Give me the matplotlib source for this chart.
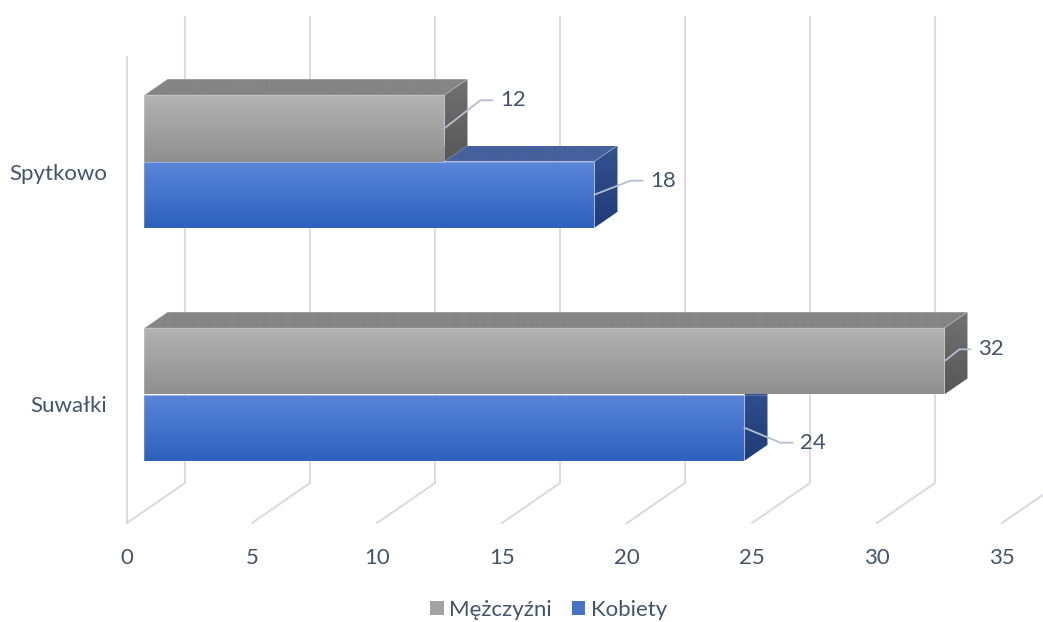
import numpy as np
import matplotlib
matplotlib.use("Agg")
import matplotlib.pyplot as plt
from matplotlib.patches import Polygon, Patch
from matplotlib.lines import Line2D
from matplotlib.colors import LinearSegmentedColormap

# ---------------- data ----------------
categories = ["Suwałki", "Spytkowo"]
series_names = ["Mężczyźni", "Kobiety"]
men = [32, 12]
women = [24, 18]
xticks = [0, 5, 10, 15, 20, 25, 30, 35]

# ---------------- style / layout ----------------
W, H, DPI = 1043, 622, 100
TXT = "#44546a"
GRID = "#d9d9e3"
FONT = "Lato"
FS = 16

# pixel layout of the projection (front plane)
X0_PX, PX_PER_X = 127, 25.0
C0_PX, PX_PER_C = 406.5, 233.0
DEPTH_PX = (58.0, 40.0)
DX = DEPTH_PX[0] / PX_PER_X
DY = DEPTH_PX[1] / PX_PER_C
C_LO, C_HI = -0.5, 1.5
BAR_H = 0.285
D0, D1 = 0.3, 0.7

def proj(v, c, d):
    return (v + DX * d, c + DY * d)

fig = plt.figure(figsize=(W / DPI, H / DPI), dpi=DPI)
ax = fig.add_axes([0, 0, 1, 1])
ax.set_xlim(-X0_PX / PX_PER_X, (W - X0_PX) / PX_PER_X)
ax.set_ylim(-(H - C0_PX) / PX_PER_C, C0_PX / PX_PER_C)
ax.axis("off")

# ---------------- walls / gridlines ----------------
glw = 1.4
for v in xticks:
    a = proj(v, C_LO, 0); b = proj(v, C_LO, 1); t = proj(v, C_HI, 1)
    ax.plot([a[0], b[0], t[0]], [a[1], b[1], t[1]], color=GRID, lw=glw,
            zorder=1, solid_joinstyle="miter")
a = proj(0, C_LO, 0); t = proj(0, C_HI, 0)
ax.plot([a[0], t[0]], [a[1], t[1]], color=GRID, lw=glw, zorder=1)

# ---------------- bars ----------------
def grad_fill(poly_pts, c_top, c_bot, z):
    pts = np.array(poly_pts)
    poly = Polygon(pts, closed=True, facecolor="none", edgecolor="none", zorder=z)
    ax.add_patch(poly)
    cmap = LinearSegmentedColormap.from_list("g", [c_bot, c_top])
    grad = np.linspace(0, 1, 256).reshape(-1, 1)
    im = ax.imshow(grad, cmap=cmap, origin="lower", aspect="auto",
                   extent=(pts[:, 0].min(), pts[:, 0].max(),
                           pts[:, 1].min(), pts[:, 1].max()),
                   zorder=z, interpolation="bilinear")
    im.set_clip_path(poly)
    ax.add_patch(Polygon(pts, closed=True, facecolor="none",
                         edgecolor=(1, 1, 1, 0.25), lw=0.6, zorder=z + 0.01))

styles = {
    "men": dict(front=("#b3b3b3", "#8f8f8f"), top=("#858585", "#858585"),
                side=("#727272", "#575757")),
    "women": dict(front=("#5b86d9", "#2d61bd"), top=("#46619d", "#46619d"),
                  side=("#34528f", "#1f3c78")),
}

def draw_bar(v, y0, y1, st, z):
    front = [proj(0, y0, D0), proj(v, y0, D0), proj(v, y1, D0), proj(0, y1, D0)]
    top = [proj(0, y1, D0), proj(v, y1, D0), proj(v, y1, D1), proj(0, y1, D1)]
    side = [proj(v, y0, D0), proj(v, y0, D1), proj(v, y1, D1), proj(v, y1, D0)]
    grad_fill(top, *st["top"], z)
    grad_fill(side, *st["side"], z + 0.1)
    grad_fill(front, *st["front"], z + 0.2)

for i, c in enumerate(range(len(categories))):
    z = 3 + i
    draw_bar(women[i], c - BAR_H, c, styles["women"], z)
    draw_bar(men[i], c, c + BAR_H, styles["men"], z + 0.5)

# ---------------- data labels with leader lines ----------------
# (dx1, dy1) elbow offset and (dx2) horizontal run, in pixels
leaders = {
    ("men", 1): (36, 28, 12),
    ("women", 1): (36, 14, 12),
    ("men", 0): (15, 12, 11),
    ("women", 0): (36, -15, 12),
}
for key, vals, y0f in (("men", men, 0.5), ("women", women, -0.5)):
    for i, v in enumerate(vals):
        yc = i + y0f * BAR_H
        p = proj(v, yc, D0)
        px, py = ax.transData.transform(p)
        d1x, d1y, d2 = leaders[(key, i)]
        xs = [px, px + d1x, px + d1x + d2]
        ys = [py, py + d1y, py + d1y]
        ax.add_line(Line2D(xs, ys, transform=None, color="#b4bfd0", lw=1.3,
                           zorder=10))
        ax.text(xs[-1] + 8, ys[-1], str(v), transform=None, ha="left",
                va="center", fontsize=FS, color=TXT, family=FONT, zorder=11)

# ---------------- axis labels ----------------
for v in xticks:
    x, y = proj(v, C_LO, 0)
    ax.text(x, y - 35 / PX_PER_C, str(v), ha="center", va="center",
            fontsize=FS, color=TXT, family=FONT)
for i, name in enumerate(categories):
    x, y = proj(0, i, 0)
    ax.text(x - 20 / PX_PER_X, y, name, ha="right", va="center",
            fontsize=FS, color=TXT, family=FONT)

# ---------------- legend ----------------
handles = [Patch(facecolor="#a3a3a3", edgecolor="none", label=series_names[0]),
           Patch(facecolor="#4472c4", edgecolor="none", label=series_names[1])]
leg = fig.legend(handles=handles, loc="center", bbox_to_anchor=(0.526, 0.019),
                 ncol=2, frameon=False, handlelength=0.6, handleheight=0.6,
                 handletextpad=0.25, columnspacing=0.9,
                 prop={"family": FONT, "size": FS})
for t in leg.get_texts():
    t.set_color(TXT)

fig.savefig("out.png", dpi=DPI, facecolor="white")
